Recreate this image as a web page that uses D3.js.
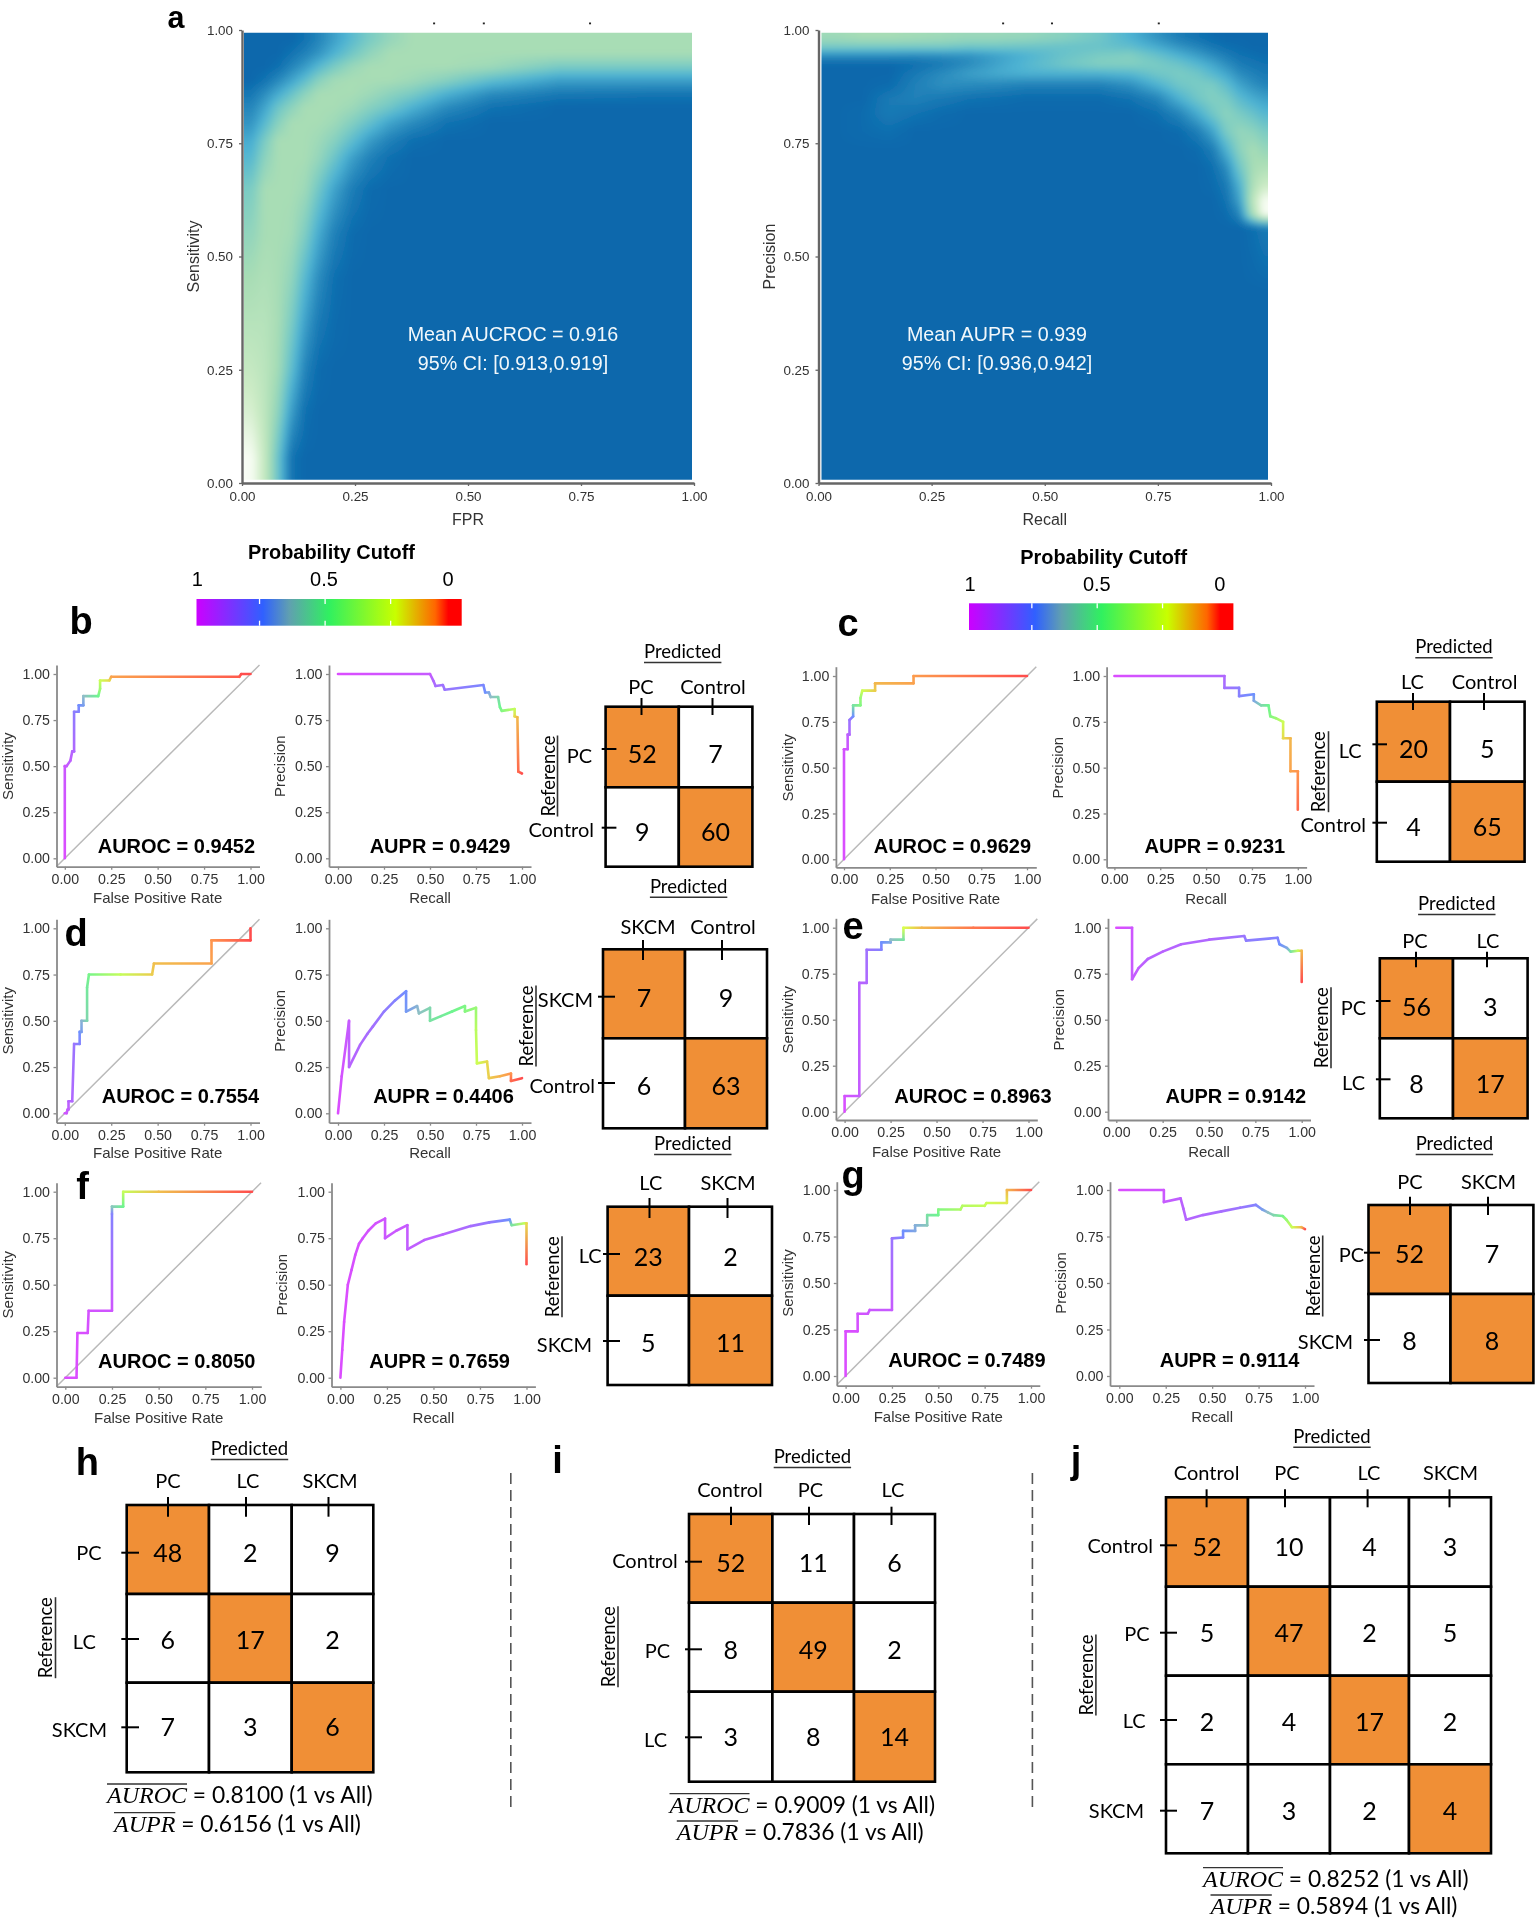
<!DOCTYPE html>
<html>
<head>
<meta charset="utf-8">
<script src="https://cdn.jsdelivr.net/npm/d3@7"></script>
<style>
body{margin:0;background:#fff}
svg{display:block;filter:blur(0.45px)}
text{font-family:"Liberation Sans",Arial,sans-serif}
.calibri{font-family:Lato,"Noto Sans",sans-serif}
</style>
</head>
<body>
<div id="chart"></div>
<script>
// ---- data ----
var tickVals = [0, 0.25, 0.5, 0.75, 1];

// panel a, density levels: cell edges and one row per y band
var rocHeatX = [0,.03,.06,.09,.12,.15,.18,.22,.26,.3,.35,.4,.5,.6,.8,1];
var rocHeatY = [1,.97,.94,.91,.88,.85,.82,.78,.74,.7,.6,.5,.4,.3,.2,.1,0];
var rocHeat = [
  [0,0,0,0,.3,.8,1.5,2.3,3,3.6,4,4,4,4,4],
  [0,0,0,.3,.7,1.2,2,2.8,3.5,4,4,4,4,4,4],
  [0,0,.2,.8,1.4,2.2,3,3.7,4,4,4,4,3.8,3,3],
  [0,.3,.9,1.6,2.4,3.3,3.9,4,4,4,3.8,3.3,2.4,1.5,1.5],
  [.4,1,1.8,2.6,3.4,4,4,4,3.8,3.4,3,2,1,.5,.4],
  [.8,1.6,2.7,3.4,4,4,4,3.8,3.3,2.8,2,1,.3,0,0],
  [1.2,2.2,3.3,4,4,4,3.8,3.2,2.5,1.6,1,.3,0,0,0],
  [1.8,3,4,4,4,3.8,3.3,2.4,1.4,.7,.2,0,0,0,0],
  [2.2,3.4,4,4,4,3.6,2.7,1.5,.7,.2,0,0,0,0,0],
  [3,4,4,4,3.8,2.8,1.6,.6,.1,0,0,0,0,0,0],
  [3.5,4,4,3.9,3.1,1.8,.7,.1,0,0,0,0,0,0,0],
  [4,4.2,4,3.5,2.2,1,.2,0,0,0,0,0,0,0,0],
  [4.4,4.4,4,3,1.5,.5,.1,0,0,0,0,0,0,0,0],
  [4.8,4.5,3.9,2.4,.8,.1,0,0,0,0,0,0,0,0,0],
  [5.3,4.6,3.4,1.4,.2,0,0,0,0,0,0,0,0,0,0],
  [6,4.8,2.6,.3,0,0,0,0,0,0,0,0,0,0,0]
];
var prHeatX = [0,.06,.12,.18,.24,.3,.36,.42,.5,.58,.66,.72,.78,.82,.86,.89,.92,.95,.98,1];
var prHeatY = [1,.98,.96,.94,.92,.9,.87,.84,.8,.76,.72,.68,.64,.61,.58,.55,.3,0];
var prHeat = [
  [3.8,4,4,3.9,3.8,3.7,3.7,3.6,3.3,2.8,2,1.2,.6,.3,.1,0,0,0,0],
  [3,3,3,3,3,2.8,2.8,2.7,2.6,2.6,2.4,1.8,1.2,.8,.4,.2,.1,0,0],
  [1,1,1,.9,1,1.1,1.5,2,2.6,3,3.2,2.6,2,1.5,1,.6,.3,.2,.1],
  [0,0,0,.2,.5,1,1.6,2.2,2.8,3.2,3.2,3,2.7,2.2,1.7,1.1,.6,.4,.3],
  [0,0,0,.5,1,1.5,1.8,2,2,2,2.2,2.8,3,2.8,2.2,1.7,1,.7,.5],
  [0,0,.1,.7,1.1,1,.9,.7,.7,.7,1.1,2,2.8,3,3,2.4,1.6,1.1,.8],
  [0,0,.5,.7,.5,.3,.2,.1,.1,.1,.3,.8,2,2.8,3.2,3,2.3,1.8,1.5],
  [0,.1,.5,.3,.1,0,0,0,0,0,0,.2,.8,1.8,2.8,3.4,3,2.6,2.2],
  [0,.1,.2,0,0,0,0,0,0,0,0,0,.1,.6,1.6,3,3.6,3.4,3],
  [0,0,0,0,0,0,0,0,0,0,0,0,0,.1,.6,2,3.4,4,3.6],
  [0,0,0,0,0,0,0,0,0,0,0,0,0,0,.2,1,2.8,4,4.2],
  [0,0,0,0,0,0,0,0,0,0,0,0,0,0,.1,.5,2,4.2,5],
  [0,0,0,0,0,0,0,0,0,0,0,0,0,0,0,.3,1.5,4.6,6],
  [0,0,0,0,0,0,0,0,0,0,0,0,0,0,0,.1,.8,4.2,6],
  [0,0,0,0,0,0,0,0,0,0,0,0,0,0,0,0,0,.2,.5],
  [0,0,0,0,0,0,0,0,0,0,0,0,0,0,0,0,0,0,0],
  [0,0,0,0,0,0,0,0,0,0,0,0,0,0,0,0,0,0,0]
];
var strayMarksLeft = [0.425, 0.535, 0.77];
var strayMarksRight = [0.408, 0.516, 0.752];

// curves: [x, y, position on the colour bar]
var rocB = [[0,0,0],[0,.5,.04],[.01,.5,.05],[.03,.53,.07],[.04,.58,.09],[.05,.58,.1],[.05,.795,.18],[.075,.795,.2],[.075,.83,.24],[.1,.83,.28],[.1,.88,.35],[.18,.88,.5],[.19,.92,.62],[.19,.965,.72],[.24,.965,.8],[.25,.985,.88],[.94,.985,.94],[.95,1,.97],[1,1,1]];
var prB = [[0,1,0],[.5,1,.05],[.52,.96,.1],[.53,.935,.12],[.57,.94,.14],[.58,.915,.15],[.79,.94,.22],[.8,.9,.25],[.82,.9,.3],[.83,.875,.35],[.87,.875,.42],[.88,.82,.5],[.89,.8,.55],[.96,.81,.7],[.96,.77,.8],[.975,.765,.85],[.98,.47,.93],[1,.46,1]];
var rocC = [[0,0,0],[0,.6,.02],[.02,.6,.03],[.02,.68,.06],[.03,.68,.1],[.03,.76,.15],[.05,.78,.25],[.05,.84,.45],[.09,.84,.55],[.09,.88,.6],[.1,.92,.72],[.17,.92,.82],[.17,.96,.85],[.38,.96,.88],[.38,1,.89],[1,1,.95]];
var prC = [[0,1,0],[.6,1,.1],[.6,.935,.13],[.68,.935,.18],[.68,.89,.2],[.76,.9,.25],[.76,.865,.3],[.8,.84,.42],[.84,.84,.5],[.85,.78,.55],[.88,.77,.6],[.92,.75,.72],[.92,.66,.8],[.96,.66,.85],[.96,.48,.88],[1,.48,.9],[1,.27,.93]];
var rocD = [[0,0,.02],[.01,0,.04],[.015,.02,.05],[.02,.02,.06],[.02,.065,.08],[.04,.065,.1],[.05,.375,.15],[.08,.375,.2],[.08,.44,.25],[.09,.44,.28],[.09,.5,.33],[.12,.5,.42],[.12,.68,.47],[.13,.75,.52],[.3,.75,.7],[.47,.75,.82],[.48,.81,.84],[.79,.81,.88],[.79,.935,.9],[1,.935,.97],[1,1,1]];
var prD = [[0,0,0],[.02,.2,.02],[.06,.5,.05],[.06,.25,.08],[.12,.37,.1],[.16,.43,.12],[.19,.47,.13],[.25,.55,.17],[.31,.61,.2],[.37,.66,.24],[.37,.55,.27],[.43,.58,.33],[.44,.54,.36],[.5,.57,.42],[.5,.5,.45],[.56,.525,.47],[.62,.55,.5],[.69,.58,.54],[.69,.55,.56],[.75,.57,.6],[.75,.45,.68],[.755,.27,.72],[.81,.28,.8],[.82,.19,.82],[.88,.2,.86],[.94,.215,.9],[.94,.175,.93],[1,.19,1]];
var rocE = [[0,0,0],[0,.085,.02],[.08,.085,.05],[.08,.7,.08],[.12,.7,.1],[.12,.88,.14],[.2,.88,.2],[.2,.92,.25],[.25,.92,.3],[.25,.935,.35],[.32,.935,.45],[.32,1,.75],[.42,1,.85],[.7,1,.92],[1,1,.97]];
var prE = [[0,1,0],[.085,1,.03],[.085,.72,.05],[.12,.78,.06],[.17,.83,.08],[.25,.87,.08],[.35,.91,.09],[.5,.935,.1],[.69,.955,.15],[.7,.93,.18],[.87,.945,.2],[.88,.91,.25],[.92,.89,.3],[.94,.87,.45],[.98,.875,.7],[1,.875,.85],[1,.705,.95]];
var rocF = [[0,0,0],[.06,0,0],[.065,.24,0],[.12,.24,.01],[.125,.36,.02],[.25,.36,.03],[.25,.88,.2],[.25,.92,.38],[.31,.92,.5],[.31,1,.7],[.5,1,.84],[1,1,.95]];
var prF = [[0,0,0],[.01,.15,0],[.02,.3,0],[.04,.5,0],[.06,.58,.01],[.08,.66,.01],[.1,.72,.01],[.12,.75,.02],[.15,.79,.02],[.19,.83,.02],[.24,.855,.03],[.24,.75,.04],[.3,.79,.04],[.36,.82,.05],[.36,.69,.06],[.45,.74,.07],[.55,.77,.08],[.7,.815,.12],[.8,.835,.16],[.91,.85,.25],[.92,.82,.45],[.99,.83,.7],[1,.83,.8],[1,.61,.97]];
var rocG = [[0,0,0],[0,.24,0],[.065,.24,.01],[.065,.335,.02],[.12,.335,.03],[.13,.355,.04],[.25,.355,.05],[.25,.74,.15],[.31,.745,.22],[.31,.78,.25],[.375,.78,.3],[.375,.81,.32],[.44,.81,.38],[.44,.865,.45],[.5,.865,.5],[.5,.895,.55],[.62,.895,.65],[.63,.915,.67],[.75,.915,.7],[.76,.93,.72],[.87,.93,.78],[.87,1,.85],[1,1,.97]];
var prG = [[0,1,0],[.24,1,.03],[.24,.935,.05],[.33,.955,.07],[.345,.9,.08],[.36,.84,.09],[.45,.865,.1],[.55,.885,.12],[.65,.905,.15],[.735,.92,.2],[.77,.895,.28],[.8,.88,.35],[.83,.865,.42],[.88,.86,.52],[.9,.84,.6],[.93,.8,.72],[.98,.8,.85],[1,.79,1]];

var aurocB = "0.9452", auprB = "0.9429", aurocC = "0.9629", auprC = "0.9231";
var aurocD = "0.7554", auprD = "0.4406", aurocE = "0.8963", auprE = "0.9142";
var aurocF = "0.8050", auprF = "0.7659", aurocG = "0.7489", auprG = "0.9114";

// confusion tables
var classesB = ["PC","Control"],  countsB = [[52,7],[9,60]];
var classesC = ["LC","Control"],  countsC = [[20,5],[4,65]];
var classesD = ["SKCM","Control"],countsD = [[7,9],[6,63]];
var classesE = ["PC","LC"],       countsE = [[56,3],[8,17]];
var classesF = ["LC","SKCM"],     countsF = [[23,2],[5,11]];
var classesG = ["PC","SKCM"],     countsG = [[52,7],[8,8]];
var classesH = ["PC","LC","SKCM"];        var countsH = [[48,2,9],[6,17,2],[7,3,6]];
var classesI = ["Control","PC","LC"];     var countsI = [[52,11,6],[8,49,2],[3,8,14]];
var classesJ = ["Control","PC","LC","SKCM"]; var countsJ = [[52,10,4,3],[5,47,2,5],[2,4,17,2],[7,3,2,4]];

var barLabels = [1, 0.5, 0], barTicks = [0.75, 0.5, 0.25];

// ---- page ----
var svg = d3.select("#chart").append("svg").attr("width",1535).attr("height",1920);
var defs = svg.append("defs");

var heatColor = d3.scaleLinear().domain([0,1,2,3,4,5,6])
  .range(["#0868ac","#2b8cbe","#4eb3d3","#7bccc4","#a8ddb5","#ccebc5","#f8fdf4"]);

var barStops = [[0,"#cc00ff"],[.25,"#3060ff"],[.35,"#60a0b0"],[.5,"#30f060"],[.75,"#c8ff00"],[.9,"#ff6600"],[.95,"#ff0000"],[1,"#ff0000"]];
var cutoffColor = d3.scaleLinear().domain(barStops.map(function(d){return d[0];})).range(barStops.map(function(d){return d[1];}));
function lineColor(c){ return d3.interpolateRgb(cutoffColor(c),"#fff")(0.3); }

defs.append("filter").attr("id","soft").attr("filterUnits","userSpaceOnUse")
  .attr("x",0).attr("y",0).attr("width",1535).attr("height",700)
  .append("feGaussianBlur").attr("stdDeviation",3);

function txt(parent,x,y,s,size,anchor,opts){
  opts = opts||{};
  var t = parent.append("text").attr("x",x).attr("y",y).text(s)
    .style("font-size",size+"px").attr("text-anchor",anchor||"start")
    .attr("fill",opts.fill||"#000");
  if(opts.bold) t.style("font-weight","bold");
  if(opts.cls) t.attr("class",opts.cls);
  if(opts.rot) t.attr("transform","rotate(-90 "+x+" "+y+")");
  return t;
}

function styleAxis(g,color,width,size){
  g.select(".domain").attr("stroke",color).attr("stroke-width",width);
  g.selectAll(".tick line").attr("stroke",color).attr("stroke-width",1.3);
  g.selectAll(".tick text").attr("fill","#333").style("font-size",size+"px")
    .style("font-family","'Liberation Sans',Arial,sans-serif");
}

// level at a pixel, going linearly between the cell middles
function lookup(list,v){
  var i = d3.bisectRight(list,v);
  if(i<=0) return [0,0,0];
  if(i>=list.length) return [list.length-1,list.length-1,0];
  return [i-1,i,(v-list[i-1])/(list[i]-list[i-1])];
}

// ---- panel a ----
function heatPanel(id,axisX,axisXEnd,heatL,heatR,edgesX,edgesY,rows,xlab,ylab,ylabX,marks,lines,textX){
  var x = d3.scaleLinear().domain([0,1]).range([axisX,axisXEnd]);
  var y = d3.scaleLinear().domain([0,1]).range([483,30]);
  var hx = d3.scaleLinear().domain([0,1]).range([heatL,heatR]);
  var hy = d3.scaleLinear().domain([0,1]).range([479.7,32.7]);

  var midX = d3.pairs(edgesX).map(function(p){ return hx((p[0]+p[1])/2); });
  var midY = d3.pairs(edgesY).map(function(p){ return hy((p[0]+p[1])/2); });

  var pad = 16;
  var w = Math.round(heatR-heatL)+pad*2, h = 447+pad*2;
  var cv = document.createElement("canvas");
  cv.width = w; cv.height = h;
  var ctx = cv.getContext("2d");
  var img = ctx.createImageData(w,h);
  for(var j=0;j<h;j++){
    var ry = lookup(midY,j-pad+32.7);
    for(var i=0;i<w;i++){
      var rx = lookup(midX,i-pad+heatL);
      var top = rows[ry[0]][rx[0]]*(1-rx[2]) + rows[ry[0]][rx[1]]*rx[2];
      var bot = rows[ry[1]][rx[0]]*(1-rx[2]) + rows[ry[1]][rx[1]]*rx[2];
      var c = d3.rgb(heatColor(top*(1-ry[2])+bot*ry[2]));
      var k = (j*w+i)*4;
      img.data[k]=c.r; img.data[k+1]=c.g; img.data[k+2]=c.b; img.data[k+3]=255;
    }
  }
  ctx.putImageData(img,0,0);

  defs.append("clipPath").attr("id",id).append("rect")
    .attr("x",heatL).attr("y",32.7).attr("width",heatR-heatL).attr("height",447);
  svg.append("g").attr("clip-path","url(#"+id+")")
    .append("g").attr("filter","url(#soft)")
    .append("image").attr("href",cv.toDataURL())
    .attr("x",heatL-pad).attr("y",32.7-pad).attr("width",w).attr("height",h);

  var ax = svg.append("g").attr("transform","translate(0,483)")
    .call(d3.axisBottom(x).tickValues(tickVals).tickFormat(d3.format(".2f")).tickSize(3).tickSizeOuter(0).tickPadding(5.5));
  styleAxis(ax,"#666",2.4,13.4);
  var ay = svg.append("g").attr("transform","translate("+axisX+",0)")
    .call(d3.axisLeft(y).tickValues(tickVals).tickFormat(d3.format(".2f")).tickSize(3).tickSizeOuter(0).tickPadding(6));
  styleAxis(ay,"#666",2.4,13.4);

  txt(svg,(axisX+axisXEnd)/2,525,xlab,16,"middle",{fill:"#333"});
  txt(svg,ylabX,256.5,ylab,16,"middle",{fill:"#333",rot:true});

  svg.selectAll(null).data(marks).enter().append("rect")
    .attr("x",function(d){ return x(d)-1; }).attr("y",22.5).attr("width",2).attr("height",1.8).attr("fill","#222");

  txt(svg,textX,341,lines[0],19.7,"middle",{fill:"#f2f8fb"});
  txt(svg,textX,370,lines[1],19.7,"middle",{fill:"#f2f8fb"});
}
heatPanel("clipA",242,694,244,692,rocHeatX,rocHeatY,rocHeat,"FPR","Sensitivity",199,strayMarksLeft,["Mean AUCROC = 0.916","95% CI: [0.913,0.919]"],513);
heatPanel("clipB",818.5,1271,821.5,1268,prHeatX,prHeatY,prHeat,"Recall","Precision",775,strayMarksRight,["Mean AUPR = 0.939","95% CI: [0.936,0.942]"],997);

// ---- colour bars ----
function colorBar(id,x0,x1,y0,y1,titleX,titleY,labelX,labelY){
  var grad = defs.append("linearGradient").attr("id",id);
  barStops.forEach(function(s){ grad.append("stop").attr("offset",s[0]).attr("stop-color",s[1]); });
  svg.append("rect").attr("x",x0).attr("y",y0).attr("width",x1-x0).attr("height",y1-y0).attr("fill","url(#"+id+")");
  var t = d3.scaleLinear().domain([1,0]).range([x0-2.5,x1-5.5]);
  barTicks.forEach(function(v){
    [[y0,y0+5],[y1-5,y1]].forEach(function(e){
      svg.append("line").attr("x1",t(v)).attr("x2",t(v)).attr("y1",e[0]).attr("y2",e[1])
        .attr("stroke","#fff").attr("stroke-width",1.3);
    });
  });
  txt(svg,titleX,titleY,"Probability Cutoff",19.9,"middle",{bold:true});
  var lx = d3.scaleOrdinal().domain(barLabels).range(labelX);
  barLabels.forEach(function(v){ txt(svg,lx(v),labelY,v,20,"middle"); });
}
colorBar("barL",196.5,461.7,599,625.7,331.5,559.3,[197.4,324,448],586);
colorBar("barR",969,1233.4,603.3,630,1103.7,564.3,[970,1096.8,1219.8],590.7);

// ---- small curves ----
var segId = 0;
var seg = d3.line();
function curvePlot(curve,c,r,xlab,ylab,ylabX,isRoc){
  var x = d3.scaleLinear().domain([0,1]).range([c.x0,c.x1]);
  var y = d3.scaleLinear().domain([0,1]).range([r.y0,r.y1]);
  var xl = x.invert(c.l), xh = x.invert(c.r), yl = y.invert(r.bot), yh = y.invert(r.top);
  x.domain([xl,xh]).range([c.l,c.r]);
  y.domain([yl,yh]).range([r.bot,r.top]);

  if(isRoc){
    var lo = Math.max(xl,yl), hi = Math.min(xh,yh);
    svg.append("path").attr("d",seg([[x(lo),y(lo)],[x(hi),y(hi)]]))
      .attr("stroke","#b9b9b9").attr("stroke-width",1.5).attr("fill","none");
  }
  var ax = svg.append("g").attr("transform","translate(0,"+r.bot+")")
    .call(d3.axisBottom(x).tickValues(tickVals).tickFormat(d3.format(".2f")).tickSize(3).tickSizeOuter(0).tickPadding(4));
  styleAxis(ax,"#8a8a8a",1.8,14.2);
  var ay = svg.append("g").attr("transform","translate("+c.l+",0)")
    .call(d3.axisLeft(y).tickValues(tickVals).tickFormat(d3.format(".2f")).tickSize(3).tickSizeOuter(0).tickPadding(3.5));
  styleAxis(ay,"#8a8a8a",1.8,14.2);

  txt(svg,(c.x0+c.x1)/2,r.lab,xlab,15,"middle",{fill:"#333"});
  txt(svg,ylabX,(r.y0+r.y1)/2,ylab,15,"middle",{fill:"#333",rot:true});

  d3.pairs(curve).forEach(function(p){
    var a = p[0], b = p[1], stroke;
    if(a[2]==b[2]){ stroke = lineColor(a[2]); }
    else{
      segId++;
      var g = defs.append("linearGradient").attr("id","s"+segId).attr("gradientUnits","userSpaceOnUse")
        .attr("x1",x(a[0])).attr("y1",y(a[1])).attr("x2",x(b[0])).attr("y2",y(b[1]));
      g.append("stop").attr("offset",0).attr("stop-color",lineColor(a[2]));
      g.append("stop").attr("offset",1).attr("stop-color",lineColor(b[2]));
      stroke = "url(#s"+segId+")";
    }
    svg.append("path").attr("d",seg([[x(a[0]),y(a[1])],[x(b[0]),y(b[1])]]))
      .attr("fill","none").attr("stroke",stroke).attr("stroke-width",2.6).attr("stroke-linecap","round");
  });
}

function pair(roc,pr,colR,colP,row,sensX,precX,aurocV,auprV,aurocEnd,auprMid,scoreY){
  curvePlot(roc,colR,row,"False Positive Rate","Sensitivity",sensX,true);
  curvePlot(pr,colP,row,"Recall","Precision",precX,false);
  txt(svg,aurocEnd,scoreY,"AUROC = "+aurocV,20,"end",{bold:true});
  txt(svg,auprMid,scoreY,"AUPR = "+auprV,20,"middle",{bold:true});
}

pair(rocB,prB,{l:56.5,x0:64.8,x1:250.5,r:259.5},{l:329,x0:338,x1:522,r:531},{top:665,y1:674,y0:858.3,bot:866.7,lab:903},13,285.5,aurocB,auprB,255,440,852.7);
pair(rocC,prC,{l:835.9,x0:844,x1:1027,r:1036.3},{l:1106.6,x0:1114.4,x1:1297.8,r:1306.6},{top:666.7,y1:676,y0:859.3,bot:867.3,lab:904},793,1063,aurocC,auprC,1031,1214.9,852.7);
pair(rocD,prD,{l:56.5,x0:64.8,x1:250.5,r:259.5},{l:329,x0:338,x1:522,r:531},{top:919.3,y1:928.3,y0:1113.3,bot:1122.7,lab:1158},13,285.5,aurocD,auprD,259,443.5,1103.3);
pair(rocE,prE,{l:835.9,x0:844.6,x1:1028.5,r:1037.3},{l:1108,x0:1116.3,x1:1301.7,r:1310.5},{top:918.3,y1:927.7,y0:1111.7,bot:1120,lab:1157},793,1064,aurocE,auprE,1051.5,1235.9,1102.7);
pair(rocF,prF,{l:56.5,x0:65.3,x1:252,r:261.3},{l:331.5,x0:340.4,x1:526.5,r:535.4},{top:1182.7,y1:1191.7,y0:1377.7,bot:1386.7,lab:1423},13,287,aurocF,auprF,255.4,439.6,1368);
pair(rocG,prG,{l:836.8,x0:845.6,x1:1031,r:1039.8},{l:1110,x0:1119.3,x1:1305,r:1314},{top:1181.7,y1:1190,y0:1376,bot:1385.7,lab:1422},793,1066,aurocG,auprG,1045.6,1229.5,1366.7);

// ---- confusion tables ----
function confusion(classes,counts,g){
  var n = classes.length;
  var idx = d3.range(n);
  var colEdge = d3.scaleOrdinal().domain(d3.range(n+1)).range(g.xs);
  var rowEdge = d3.scaleOrdinal().domain(d3.range(n+1)).range(g.ys);
  var cells = [];
  counts.forEach(function(row,r){ row.forEach(function(v,c){ cells.push({r:r,c:c,v:v}); }); });

  svg.selectAll(null).data(cells).enter().append("rect")
    .attr("x",function(d){ return colEdge(d.c); })
    .attr("y",function(d){ return rowEdge(d.r); })
    .attr("width",function(d){ return colEdge(d.c+1)-colEdge(d.c); })
    .attr("height",function(d){ return rowEdge(d.r+1)-rowEdge(d.r); })
    .attr("fill",function(d){ return d.r==d.c?"#f08f36":"#fff"; })
    .attr("stroke","#000").attr("stroke-width",2.6);

  svg.selectAll(null).data(cells).enter().append("text")
    .attr("class","calibri").attr("text-anchor","middle")
    .attr("x",function(d){ return (colEdge(d.c)+colEdge(d.c+1))/2; })
    .attr("y",function(d){ return g.num[d.r]+9; })
    .style("font-size","25px").attr("fill","#000")
    .text(function(d){ return d.v; });

  idx.forEach(function(i){
    txt(svg,g.colX[i],g.colY,classes[i],20,"middle",{cls:"calibri"});
    svg.append("line").attr("x1",g.colTick[i]).attr("x2",g.colTick[i]).attr("y1",g.colTickY[0]).attr("y2",g.colTickY[1])
      .attr("stroke","#000").attr("stroke-width",2);
    txt(svg,g.rowEnd[i],g.rowY[i],classes[i],20,"end",{cls:"calibri"});
    svg.append("line").attr("x1",g.rowTickX[0]).attr("x2",g.rowTickX[1]).attr("y1",g.rowTick[i]).attr("y2",g.rowTick[i])
      .attr("stroke","#000").attr("stroke-width",2);
  });

  var pr = txt(svg,g.pred[0],g.pred[1],"Predicted",18.5,"middle",{cls:"calibri"});
  var pw = pr.node().getComputedTextLength();
  svg.append("line").attr("x1",g.pred[0]-pw/2).attr("x2",g.pred[0]+pw/2).attr("y1",g.pred[1]+4.5).attr("y2",g.pred[1]+4.5)
    .attr("stroke","#333").attr("stroke-width",1.6);
  var re = txt(svg,g.ref[0]-3,g.ref[1],"Reference",18.4,"middle",{cls:"calibri",rot:true});
  var rw = re.node().getComputedTextLength();
  svg.append("line").attr("x1",g.ref[0]).attr("x2",g.ref[0]).attr("y1",g.ref[1]-rw/2).attr("y2",g.ref[1]+rw/2)
    .attr("stroke","#333").attr("stroke-width",1.6);
}

confusion(classesB,countsB,{xs:[605.6,678.8,752.4],ys:[706.7,787.3,866.7],pred:[682.7,658],colX:[641,713],colY:694,colTick:[641.5,712.5],colTickY:[698,715],rowEnd:[592,594],rowY:[763,836.7],rowTickX:[601.7,616.4],rowTick:[749,827.7],ref:[557.5,776],num:[754,832]});
confusion(classesC,countsC,{xs:[1376.8,1450,1524.6],ys:[701.7,781.7,861.7],pred:[1454,653.3],colX:[1412.4,1484.6],colY:689,colTick:[1413,1484],colTickY:[693,710],rowEnd:[1361.7,1366],rowY:[758.3,831.7],rowTickX:[1372.4,1387],rowTick:[744.3,822.7],ref:[1328.5,771.7],num:[749,827]});
confusion(classesD,countsD,{xs:[603,685,767],ys:[949.3,1038.3,1128.3],pred:[688.6,892.7],colX:[648,723],colY:933.5,colTick:[643,722],colTickY:[940,960],rowEnd:[593,595],rowY:[1006.7,1093],rowTickX:[598,615],rowTick:[996.7,1083],ref:[536,1026],num:[998,1086]});
confusion(classesE,countsE,{xs:[1379.8,1453,1527.6],ys:[958.3,1038.3,1118.3],pred:[1456.8,910],colX:[1415,1488],colY:947.7,colTick:[1416,1487],colTickY:[951.7,967.3],rowEnd:[1366,1365],rowY:[1015,1090],rowTickX:[1375.9,1390.5],rowTick:[1001,1079.3],ref:[1331,1027.7],num:[1007,1084]});
confusion(classesF,countsF,{xs:[607.6,689,772],ys:[1206.7,1295.7,1385],pred:[692.8,1150],colX:[650.8,728],colY:1190,colTick:[649.5,727.5],colTickY:[1198,1218],rowEnd:[601.7,592],rowY:[1263,1351.7],rowTickX:[603,620],rowTick:[1254,1341],ref:[562,1276.7],num:[1257,1343]});
confusion(classesG,countsG,{xs:[1368.5,1450.5,1533.4],ys:[1205,1294,1383],pred:[1454.4,1150],colX:[1410,1488.5],colY:1189,colTick:[1410,1488],colTickY:[1196.7,1215],rowEnd:[1364,1353],rowY:[1261.7,1349.3],rowTickX:[1364,1380],rowTick:[1252.7,1340],ref:[1322.7,1276],num:[1254,1341]});
confusion(classesH,countsH,{xs:[126.7,209,291.7,373.3],ys:[1505,1594,1682.7,1772.3],pred:[249.5,1455],colX:[168,248,330],colY:1487.7,colTick:[168,246,328.5],colTickY:[1497,1516.7],rowEnd:[101.7,95.8,107],rowY:[1560,1649,1736.7],rowTickX:[121.3,139],rowTick:[1552.7,1639,1727.3],ref:[55.5,1637.7],num:[1553,1640,1727]});
confusion(classesI,countsI,{xs:[689,772.4,854,935],ys:[1514,1602.7,1691.7,1781.7],pred:[812.4,1463],colX:[730,810.5,893],colY:1496.7,colTick:[731,809,891.5],colTickY:[1506.7,1525],rowEnd:[677.8,670,667],rowY:[1568,1657.7,1746.7],rowTickX:[685,702],rowTick:[1561.7,1649.3,1737.3],ref:[618,1646.7],num:[1563,1650,1737]});
confusion(classesJ,countsJ,{xs:[1166,1248,1330,1409,1491],ys:[1497.3,1586.7,1675.7,1764.3,1853.3],pred:[1332,1442.7],colX:[1206.6,1287,1369,1450.5],colY:1480,colTick:[1206.6,1285,1367.6,1449.5],colTickY:[1489.3,1507.3],rowEnd:[1153,1149.5,1145.6,1144],rowY:[1552.7,1640.7,1728.3,1818.3],rowTickX:[1160,1177],rowTick:[1545.3,1632.7,1720,1810.7],ref:[1095.9,1675],num:[1547,1633,1722,1811]});

// mean scores under the 3 and 4 class tables
function formula(x,y,name,val){
  var t = svg.append("text").attr("x",x).attr("y",y);
  var a = t.append("tspan").text(name).style("font-family","'Liberation Serif',serif")
    .style("font-style","italic").style("font-size","24px");
  t.append("tspan").text(" = "+val+" (1 vs All)").style("font-family","Lato,sans-serif").style("font-size","22.8px");
  var w = a.node().getComputedTextLength();
  svg.append("line").attr("x1",x).attr("x2",x+w).attr("y1",y-19).attr("y2",y-19).attr("stroke","#333").attr("stroke-width",1.3);
}
formula(107,1803,"AUROC","0.8100");
formula(114,1831.7,"AUPR","0.6156");
formula(669.5,1812.7,"AUROC","0.9009");
formula(676.8,1840,"AUPR","0.7836");
formula(1203,1886.7,"AUROC","0.8252");
formula(1210.5,1914,"AUPR","0.5894");

[510.8,1032.4].forEach(function(x){
  svg.append("line").attr("x1",x).attr("x2",x).attr("y1",1473).attr("y2",1810)
    .attr("stroke","#555").attr("stroke-width",1.6).attr("stroke-dasharray","11 6");
});

// panel letters
var panelLetters = ["a","b","c","d","e","f","g","h","i","j"];
var letterX = [176,81,848,76,853,82.5,853,87.4,557.5,1076];
var letterY = [28,634,636,946,939,1199,1188,1475,1473,1473];
var letterSize = [30.5,38,38,38,38,38,38,38,38,38];
panelLetters.forEach(function(l,i){ txt(svg,letterX[i],letterY[i],l,letterSize[i],"middle",{bold:true}); });
</script>
</body>
</html>
